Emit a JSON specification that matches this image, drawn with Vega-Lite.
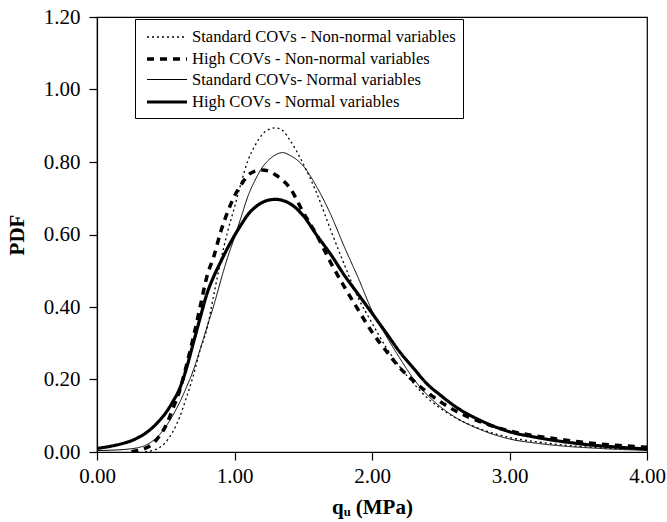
{
  "$schema": "https://vega.github.io/schema/vega-lite/v6.json",
  "width": 550,
  "height": 435,
  "autosize": {"type": "none"},
  "padding": {"left": 97, "top": 17, "right": 20, "bottom": 70},
  "background": "white",
  "config": {
    "view": {"stroke": "black", "strokeWidth": 1.2},
    "font": "Liberation Serif",
    "axis": {
      "domainColor": "black", "domainWidth": 1.2, "tickColor": "black", "tickWidth": 1.2, "tickSize": 8,
      "labelFont": "Liberation Serif", "labelFontSize": 21, "labelColor": "black", "labelFlush": false,
      "titleFont": "Liberation Serif", "titleFontSize": 21, "titleFontWeight": "bold", "titleColor": "black",
      "grid": false
    }
  },
  "data": {"values": [
    {"x": 0, "c": 0.004, "d": 0.010},
    {"x": 0.1, "c": 0.005, "d": 0.016},
    {"x": 0.2, "c": 0.007, "d": 0.025},
    {"x": 0.25, "b": 0.001, "c": 0.009, "d": 0.031},
    {"x": 0.3, "b": 0.004, "c": 0.012, "d": 0.040},
    {"x": 0.35, "a": 0.0, "b": 0.010, "c": 0.018, "d": 0.051},
    {"x": 0.4, "a": 0.004, "b": 0.021, "c": 0.029, "d": 0.066},
    {"x": 0.45, "a": 0.011, "b": 0.042, "c": 0.046, "d": 0.085},
    {"x": 0.5, "a": 0.027, "b": 0.072, "c": 0.070, "d": 0.108},
    {"x": 0.55, "a": 0.055, "b": 0.118, "c": 0.100, "d": 0.138},
    {"x": 0.6, "a": 0.095, "b": 0.168, "c": 0.136, "d": 0.174},
    {"x": 0.65, "a": 0.150, "b": 0.238, "c": 0.178, "d": 0.230},
    {"x": 0.7, "a": 0.210, "b": 0.315, "c": 0.225, "d": 0.300},
    {"x": 0.75, "a": 0.281, "b": 0.400, "c": 0.283, "d": 0.370},
    {"x": 0.8, "a": 0.340, "b": 0.485, "c": 0.345, "d": 0.437},
    {"x": 0.85, "a": 0.435, "b": 0.540, "c": 0.405, "d": 0.485},
    {"x": 0.9, "a": 0.528, "b": 0.608, "c": 0.473, "d": 0.525},
    {"x": 0.95, "a": 0.608, "b": 0.662, "c": 0.537, "d": 0.563},
    {"x": 1.0, "a": 0.675, "b": 0.706, "c": 0.592, "d": 0.597},
    {"x": 1.05, "a": 0.745, "b": 0.738, "c": 0.650, "d": 0.628},
    {"x": 1.1, "a": 0.806, "b": 0.764, "c": 0.708, "d": 0.656},
    {"x": 1.15, "a": 0.846, "b": 0.775, "c": 0.750, "d": 0.675},
    {"x": 1.2, "a": 0.875, "b": 0.778, "c": 0.784, "d": 0.688},
    {"x": 1.25, "a": 0.890, "b": 0.775, "c": 0.806, "d": 0.695},
    {"x": 1.3, "a": 0.894, "b": 0.764, "c": 0.820, "d": 0.697},
    {"x": 1.35, "a": 0.887, "b": 0.750, "c": 0.826, "d": 0.694},
    {"x": 1.4, "a": 0.862, "b": 0.730, "c": 0.819, "d": 0.686},
    {"x": 1.5, "a": 0.795, "b": 0.661, "c": 0.789, "d": 0.652},
    {"x": 1.6, "a": 0.712, "b": 0.597, "c": 0.730, "d": 0.597},
    {"x": 1.7, "a": 0.612, "b": 0.522, "c": 0.655, "d": 0.545},
    {"x": 1.8, "a": 0.516, "b": 0.455, "c": 0.565, "d": 0.487},
    {"x": 1.9, "a": 0.425, "b": 0.392, "c": 0.480, "d": 0.435},
    {"x": 2.0, "a": 0.356, "b": 0.331, "c": 0.390, "d": 0.383},
    {"x": 2.1, "a": 0.290, "b": 0.280, "c": 0.322, "d": 0.330},
    {"x": 2.2, "a": 0.236, "b": 0.233, "c": 0.260, "d": 0.277},
    {"x": 2.3, "a": 0.190, "b": 0.197, "c": 0.203, "d": 0.232},
    {"x": 2.4, "a": 0.150, "b": 0.165, "c": 0.158, "d": 0.188},
    {"x": 2.5, "a": 0.120, "b": 0.138, "c": 0.124, "d": 0.156},
    {"x": 2.6, "a": 0.096, "b": 0.115, "c": 0.097, "d": 0.127},
    {"x": 2.8, "a": 0.062, "b": 0.082, "c": 0.060, "d": 0.085},
    {"x": 3.0, "a": 0.040, "b": 0.058, "c": 0.036, "d": 0.056},
    {"x": 3.2, "a": 0.028, "b": 0.044, "c": 0.024, "d": 0.040},
    {"x": 3.4, "a": 0.019, "b": 0.033, "c": 0.016, "d": 0.028},
    {"x": 3.6, "a": 0.013, "b": 0.024, "c": 0.011, "d": 0.019},
    {"x": 3.8, "a": 0.009, "b": 0.018, "c": 0.007, "d": 0.013},
    {"x": 4.0, "a": 0.006, "b": 0.013, "c": 0.005, "d": 0.008}
  ]},
  "transform": [
    {"fold": ["a", "b", "c", "d"], "as": ["series", "y"]},
    {"filter": "isValid(datum.y)"}
  ],
  "mark": {"type": "line", "interpolate": "monotone", "color": "black", "clip": true},
  "encoding": {
    "x": {
      "field": "x", "type": "quantitative",
      "scale": {"domain": [0, 4], "nice": false, "zero": false},
      "axis": {"values": [0, 1, 2, 3, 4], "format": ".2f", "title": "qᵤ (MPa)", "labelPadding": 5, "titlePadding": 10}
    },
    "y": {
      "field": "y", "type": "quantitative",
      "scale": {"domain": [0, 1.2], "nice": false},
      "axis": {"values": [0, 0.2, 0.4, 0.6, 0.8, 1.0, 1.2], "format": ".2f", "title": "PDF", "labelPadding": 9, "titlePadding": 16}
    },
    "strokeDash": {
      "field": "series", "type": "nominal",
      "scale": {"domain": ["a", "b", "c", "d"], "range": [[2, 3], [7, 6], [1, 0], [1, 0]]},
      "legend": {
        "orient": "none", "legendX": 38, "legendY": 2, "title": null,
        "symbolType": "M-0.7,0H3.3", "symbolSize": 400, "symbolStrokeColor": "black",
        "labelFont": "Liberation Serif", "labelFontSize": 16.6, "labelColor": "black", "labelLimit": 400,
        "labelOffset": 26, "rowPadding": 1,
        "strokeColor": "black", "fillColor": "white", "padding": 7,
        "labelExpr": "datum.value == 'a' ? 'Standard COVs - Non-normal variables' : datum.value == 'b' ? 'High COVs - Non-normal variables' : datum.value == 'c' ? 'Standard COVs- Normal variables' : 'High COVs - Normal variables'"
      }
    },
    "strokeWidth": {
      "field": "series", "type": "nominal",
      "scale": {"type": "ordinal", "domain": ["a", "b", "c", "d"], "range": [1.3, 3.5, 1, 3.2]},
      "legend": {
        "orient": "none", "legendX": 38, "legendY": 2, "title": null,
        "symbolType": "M-0.7,0H3.3", "symbolSize": 400, "symbolStrokeColor": "black",
        "labelFont": "Liberation Serif", "labelFontSize": 16.6, "labelColor": "black", "labelLimit": 400,
        "labelOffset": 26, "rowPadding": 1,
        "strokeColor": "black", "fillColor": "white", "padding": 7,
        "labelExpr": "datum.value == 'a' ? 'Standard COVs - Non-normal variables' : datum.value == 'b' ? 'High COVs - Non-normal variables' : datum.value == 'c' ? 'Standard COVs- Normal variables' : 'High COVs - Normal variables'"
      }
    }
  }
}
